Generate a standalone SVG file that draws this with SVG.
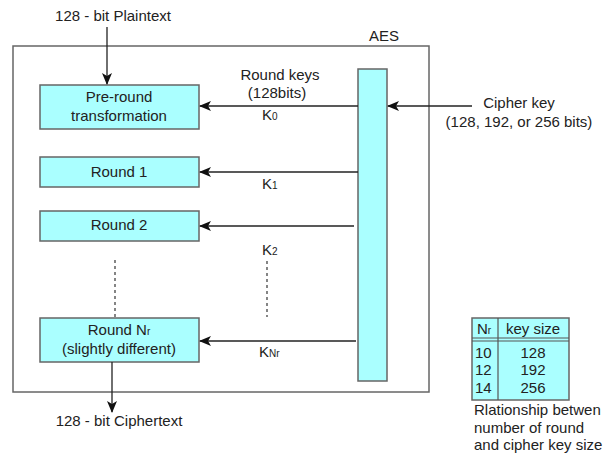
<svg xmlns="http://www.w3.org/2000/svg" width="604" height="454" viewBox="0 0 604 454">
<defs>
<style>
text{font-family:"Liberation Sans",Arial,sans-serif;font-size:15px;fill:#222}
.c{text-anchor:middle}
.box{fill:#aaffff;stroke:#666;stroke-width:1.5}
.dk{stroke:#222;stroke-width:1.3;fill:none}
.dot{stroke:#444;stroke-width:1.3;stroke-dasharray:3,3;fill:none}
.sub{font-size:10px}
</style>
<marker id="ah" viewBox="0 0 12 10" refX="11" refY="5" markerWidth="12" markerHeight="10" markerUnits="userSpaceOnUse" orient="auto">
<path d="M0,0 L12,5 L0,10 L3,5 Z" fill="#111"/>
</marker>
</defs>
<rect x="13" y="46" width="416" height="346" fill="none" stroke="#666" stroke-width="1.5"/>
<text x="384" y="41" class="c">AES</text>
<g id="plaintext"><text x="113" y="21" class="c">128 - bit Plaintext</text></g>
<g id="ciphertext"><text x="119" y="426" class="c">128 - bit Ciphertext</text></g>
<g id="preround"><rect class="box" x="40" y="85" width="159" height="44"/><text x="119" y="102" class="c">Pre-round</text><text x="119" y="121" class="c">transformation</text></g>
<g id="round1"><rect class="box" x="40" y="157" width="159" height="30"/><text x="119" y="177" class="c">Round 1</text></g>
<g id="round2"><rect class="box" x="40" y="211" width="159" height="30"/><text x="119" y="230" class="c">Round 2</text></g>
<g id="roundNr"><rect class="box" x="40" y="318" width="159" height="44"/><text x="119" y="335" class="c">Round N<tspan class="sub">r</tspan></text><text x="119" y="354" class="c">(slightly different)</text></g>
<g id="keyexp"><rect class="box" x="358" y="69" width="29" height="312"/></g>
<g id="cipherkey"><text x="519" y="108" class="c">Cipher key</text><text x="519" y="127" class="c">(128, 192, or 256 bits)</text></g>
<g id="roundkeys"><text x="280" y="80" class="c">Round keys</text><text x="277" y="98" class="c">(128bits)</text></g>
<g id="klabels">
<text x="262" y="120">K<tspan class="sub">0</tspan></text>
<text x="262" y="189">K<tspan class="sub">1</tspan></text>
<text x="262" y="255">K<tspan class="sub">2</tspan></text>
<text x="259" y="357">K<tspan class="sub">Nr</tspan></text>
</g>
<g id="connectors">
<line class="dk" x1="107" y1="27" x2="107" y2="84" marker-end="url(#ah)"/>
<line class="dk" x1="112" y1="362" x2="112" y2="412" marker-end="url(#ah)"/>
<line class="dk" x1="472" y1="106" x2="388" y2="106" marker-end="url(#ah)"/>
<line class="dk" x1="358" y1="106" x2="200" y2="106" marker-end="url(#ah)"/>
<line class="dk" x1="358" y1="172" x2="200" y2="172" marker-end="url(#ah)"/>
<line class="dk" x1="354" y1="226" x2="200" y2="226" marker-end="url(#ah)"/>
<line class="dk" x1="356" y1="341" x2="200" y2="341" marker-end="url(#ah)"/>
<line class="dot" x1="115" y1="260" x2="115" y2="317"/>
<line class="dot" x1="267" y1="261" x2="267" y2="317"/>
</g>
<g id="table">
<rect class="box" x="472" y="318" width="97" height="82"/>
<line x1="472" y1="338" x2="569" y2="338" stroke="#555" stroke-width="1.2"/>
<line x1="472" y1="341" x2="569" y2="341" stroke="#555" stroke-width="1.2"/>
<line x1="498" y1="318" x2="498" y2="400" stroke="#555" stroke-width="1.2"/>
<text x="477" y="334">N<tspan class="sub">r</tspan></text>
<text x="533" y="334" class="c">key size</text>
<text x="475" y="358">10</text><text x="533" y="358" class="c">128</text>
<text x="475" y="375">12</text><text x="533" y="375" class="c">192</text>
<text x="475" y="393">14</text><text x="533" y="393" class="c">256</text>
</g>
<g id="caption">
<text x="474" y="415">Rlationship betwen</text>
<text x="474" y="433">number of round</text>
<text x="474" y="450">and cipher key size</text>
</g>
</svg>
